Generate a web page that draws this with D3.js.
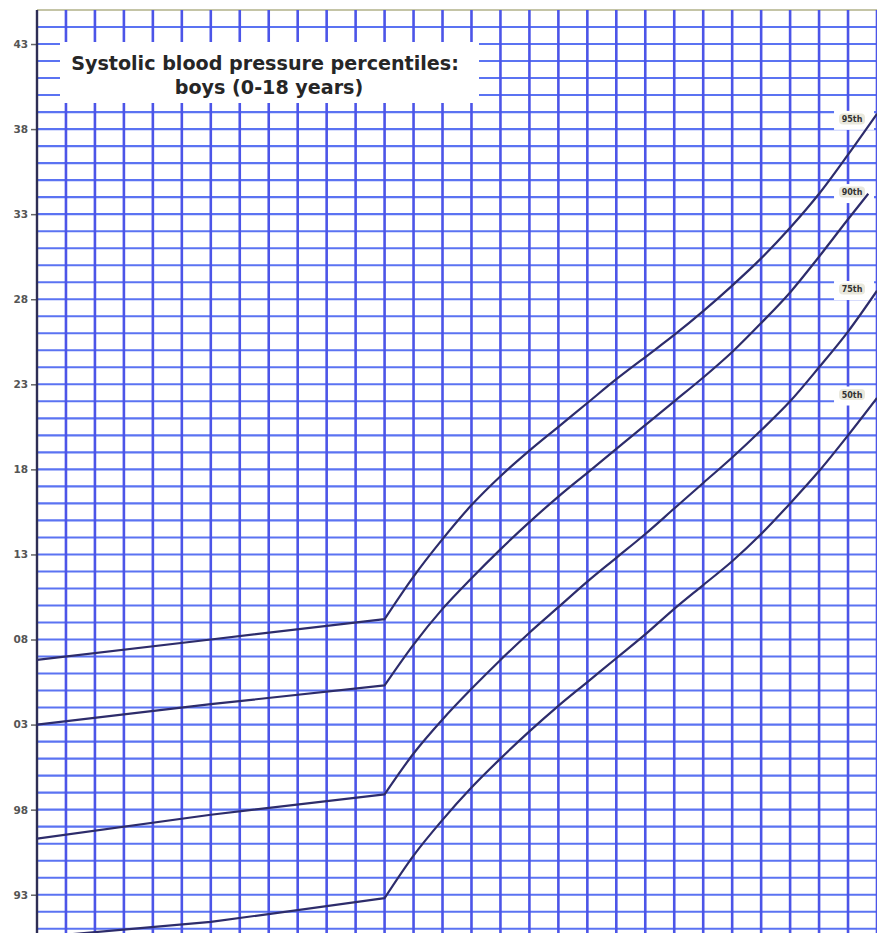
<!DOCTYPE html>
<html>
<head>
<meta charset="utf-8">
<script src="https://cdn.jsdelivr.net/npm/d3@7"></script>
<style>
  html, body { margin: 0; padding: 0; background: #ffffff; }
  svg { display: block; }
</style>
</head>
<body>
<svg id="chart" width="877" height="933"></svg>
<script>
// ---------- data ----------
const titleLines = ["Systolic blood pressure percentiles:", "boys (0-18 years)"];
const tickValues = [143, 138, 133, 128, 123, 118, 113, 108, 103, 98, 93];
const tickLabels = ["43", "38", "33", "28", "23", "18", "13", "08", "03", "98", "93"];
const seriesNames = ["95th", "90th", "75th", "50th"];
const labelValues = [138.6, 134.3, 128.6, 122.4];
const kinkAge = 12;

const age95 = [0, 6, 12, 13, 14, 15, 16, 17, 18, 19, 20, 21, 22, 23, 24, 25, 26, 27, 28, 29];
const p95   = [106.8, 108.0, 109.2, 111.7, 113.9, 115.9, 117.6, 119.1, 120.5, 121.9, 123.3, 124.6, 125.9, 127.3, 128.8, 130.4, 132.2, 134.2, 136.5, 138.9];
const age90 = [0, 6, 12, 13, 14, 15, 16, 17, 18, 19, 20, 21, 22, 23, 24, 25, 26, 27, 28, 28.7];
const p90   = [103.0, 104.2, 105.3, 107.7, 109.8, 111.6, 113.3, 114.9, 116.4, 117.8, 119.2, 120.6, 122.0, 123.4, 124.9, 126.6, 128.4, 130.5, 132.7, 134.2];
const age75 = [0, 6, 12, 13, 14, 15, 16, 17, 18, 19, 20, 21, 22, 23, 24, 25, 26, 27, 28, 29];
const p75   = [96.3, 97.7, 98.9, 101.3, 103.3, 105.1, 106.8, 108.4, 109.9, 111.4, 112.8, 114.2, 115.7, 117.2, 118.7, 120.3, 122.0, 124.0, 126.1, 128.5];
const age50 = [0, 6, 12, 13, 14, 15, 16, 17, 18, 19, 20, 21, 22, 23, 24, 25, 26, 27, 28, 29];
const p50   = [90.5, 91.4, 92.8, 95.3, 97.4, 99.3, 101.0, 102.6, 104.1, 105.5, 106.9, 108.3, 109.8, 111.2, 112.6, 114.2, 116.0, 117.9, 120.0, 122.2];

// ---------- layout ----------
const W = 877, H = 933;
const pL = 37, pR = 877, pT = 10, pB = 933;
const xMax = 29, yMin = 90.75, yMax = 145;

const x = d3.scaleLinear().domain([0, xMax]).range([pL, pR]);
const y = d3.scaleLinear().domain([yMin, yMax]).range([pB, pT]);

const svg = d3.select("#chart");
svg.append("rect").attr("width", W).attr("height", H).attr("fill", "#ffffff");

svg.append("defs").append("clipPath").attr("id", "plotClip")
  .append("rect").attr("x", pL).attr("y", pT).attr("width", pR - pL).attr("height", pB - pT);

const grid = svg.append("g");
// horizontal grid lines: every 1 mmHg
grid.selectAll("line.h").data(d3.range(91, 146)).join("line")
  .attr("class", "h")
  .attr("x1", pL).attr("x2", pR)
  .attr("y1", d => y(d)).attr("y2", d => y(d))
  .attr("stroke", d => d === 145 ? "#c4c4a6" : "#5b73f2")
  .attr("stroke-width", 2.1);
// vertical grid lines
grid.selectAll("line.v").data(d3.range(1, xMax + 1)).join("line")
  .attr("class", "v")
  .attr("x1", d => x(d)).attr("x2", d => x(d))
  .attr("y1", pT).attr("y2", pB)
  .attr("stroke", "#4c55e8")
  .attr("stroke-width", 2.6);

// left axis
const yAxis = d3.axisLeft(y)
  .tickValues(tickValues)
  .tickFormat((d, i) => tickLabels[i])
  .tickSize(6)
  .tickPadding(3);
const axisG = svg.append("g").attr("transform", `translate(${pL},0)`).call(yAxis);
axisG.select(".domain").remove();
axisG.selectAll(".tick line").attr("stroke", "#666").attr("stroke-width", 1.5);
axisG.selectAll(".tick text")
  .attr("font-family", "DejaVu Sans, Verdana, sans-serif")
  .attr("font-weight", "bold")
  .attr("font-size", 10.5)
  .attr("fill", "#555");
svg.append("line")
  .attr("x1", pL).attr("x2", pL).attr("y1", pT).attr("y2", pB)
  .attr("stroke", "#2e2e55").attr("stroke-width", 2.4);

// title box
svg.append("rect")
  .attr("x", 60).attr("y", 42).attr("width", 419).attr("height", 61)
  .attr("fill", "#ffffff");
const titleG = svg.append("g")
  .attr("font-family", "DejaVu Sans, Verdana, sans-serif")
  .attr("font-weight", "bold")
  .attr("fill", "#262626")
  .attr("text-anchor", "middle");
const t1 = titleG.append("text").attr("x", 265).attr("y", 70).attr("font-size", 17).text(titleLines[0]);
const w1 = t1.node().getComputedTextLength();
const fs = 17 * 388 / w1;
t1.attr("font-size", fs);
titleG.append("text").attr("x", 269).attr("y", 94).attr("font-size", fs).text(titleLines[1]);

// series
const series = [
  { name: seriesNames[0], ages: age95, vals: p95, lab: labelValues[0] },
  { name: seriesNames[1], ages: age90, vals: p90, lab: labelValues[1] },
  { name: seriesNames[2], ages: age75, vals: p75, lab: labelValues[2] },
  { name: seriesNames[3], ages: age50, vals: p50, lab: labelValues[3] }
];

// label boxes
const labG = svg.append("g");
series.forEach(s => {
  const cy = y(s.lab);
  labG.append("rect")
    .attr("x", x(28) - 14).attr("y", cy - 8)
    .attr("width", 40).attr("height", 19)
    .attr("fill", "#ffffff");
  labG.append("rect")
    .attr("x", x(28) - 9).attr("y", cy - 5.5)
    .attr("width", 26).attr("height", 11).attr("rx", 4)
    .attr("fill", "#e9e8dc");
  labG.append("text")
    .attr("x", x(28) + 4).attr("y", cy + 3)
    .attr("text-anchor", "middle")
    .attr("font-family", "DejaVu Sans, sans-serif")
    .attr("font-size", 8)
    .attr("font-weight", "bold")
    .attr("fill", "#333")
    .text(s.name);
});

const lineStraight = d3.line().x(d => x(d[0])).y(d => y(d[1])).curve(d3.curveLinear);
const lineSmooth = d3.line().x(d => x(d[0])).y(d => y(d[1])).curve(d3.curveMonotoneX);

function pathFor(s) {
  const pts = s.ages.map((a, i) => [a, s.vals[i]]);
  const early = pts.filter(p => p[0] <= kinkAge);
  const later = pts.filter(p => p[0] >= kinkAge);
  return lineStraight(early) + lineSmooth(later).replace(/^M[^LC]*/, "");
}

svg.append("g").attr("clip-path", "url(#plotClip)")
  .selectAll("path").data(series).join("path")
  .attr("d", pathFor)
  .attr("fill", "none")
  .attr("stroke", "#2d2c6b")
  .attr("stroke-width", 2.2)
  .attr("stroke-linejoin", "round");
</script>
</body>
</html>
